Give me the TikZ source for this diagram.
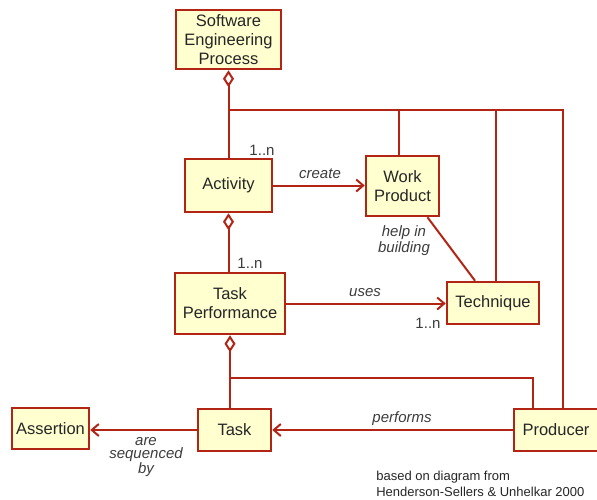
\documentclass[tikz,border=0pt]{standalone}
\usepackage{fontspec}
\setmainfont{Liberation Sans}
\usetikzlibrary{arrows.meta, positioning}
\definecolor{umlred}{RGB}{178,36,20}
\definecolor{umlfill}{RGB}{255,255,208}
\definecolor{labelgray}{RGB}{60,60,60}

\begin{document}
\begin{tikzpicture}[x=1pt, y=-1pt, draw=umlred, line width=2pt, font=\fontsize{16.5}{19}\selectfont]
    \tikzstyle{concept}=[rectangle, draw=umlred, fill=umlfill, line width=2.5pt, inner sep=2pt, align=center, text=black!85]
    \tikzstyle{assoc}=[-{Straight Barb[length=7pt,width=12pt]}]
    \tikzstyle{aggr}=[{Diamond[open,length=17pt,width=11pt]}-]
    \tikzstyle{role}=[font=\fontsize{15}{13.5}\selectfont\itshape, text=labelgray, align=center]
    \tikzstyle{mult}=[font=\fontsize{15}{15}\selectfont, text=labelgray]
    \tikzstyle{note}=[font=\fontsize{13}{16}\selectfont, text=black!85, align=left]

    \useasboundingbox (0,0) rectangle (597,499);

%    concepts
    \node[concept, minimum width=105, minimum height=59] (SEP) at (228.5,39.5) {Software\\Engineering\\Process};
    \node[concept, minimum width=87, minimum height=53] (Act) at (228.5,185.5) {Activity};
    \node[concept, minimum width=73, minimum height=60] (WP) at (402.5,186) {Work\\Product};
    \node[concept, minimum width=110, minimum height=61] (TP) at (230,303.5) {Task\\Performance};
    \node[concept, minimum width=92, minimum height=42] (Tech) at (493,303) {Technique};
    \node[concept, minimum width=73, minimum height=42] (Task) at (234.5,430) {Task};
    \node[concept, minimum width=77, minimum height=41] (Ass) at (50.5,428.5) {Assertion};
    \node[concept, minimum width=84, minimum height=42] (Prod) at (556,430) {Producer};

    \coordinate (top) at (228.5,110);
    \coordinate (topR) at (563,110);
    \coordinate (bend) at (230,378);

%    whole-part
    \draw[aggr] (SEP.south) -- (Act.north);
    \draw[aggr] (Act.south) -- (Act.south |- TP.north);
    \draw[aggr] (TP.south) -- (bend) -- (bend |- Task.north);
    \draw (top) -- (topR) -- (topR |- Prod.north);
    \draw ([xshift=-4pt]WP.north |- top) -- ([xshift=-4pt]WP.north);
    \draw ([xshift=3pt]Tech.north |- top) -- ([xshift=3pt]Tech.north);
    \draw (bend) -| ([xshift=-23pt]Prod.north);
    \draw ([xshift=25pt]WP.south) -- ([xshift=-18pt]Tech.north);

%    associations
    \draw[assoc] (Act.east) -- (Act.east -| WP.west);
    \draw[assoc] (TP.east) -- (TP.east -| Tech.west);
    \draw[assoc] (Prod.west) -- (Prod.west -| Task.east);
    \draw[assoc] (Task.west) -- (Task.west -| Ass.east);

%    labels
    \node[role] (create) at (320,174) {create};
    \node[role] (uses) at (365,293) {uses};
    \node[role] (help) at (404,241) {help in\\[1pt]building};
    \node[role] (performs) at (402,419) {performs};
    \node[role] (seq) at (146,457) {are\\sequenced\\by};
    \node[mult] (m-1) at (262,150) {1..n};
    \node[mult] (m-2) at (250,263) {1..n};
    \node[mult] (m-3) at (428,323) {1..n};
    \node[note, anchor=west] (src) at (372,484) {based on diagram from\\Henderson-Sellers \& Unhelkar 2000};
\end{tikzpicture}
\end{document}
